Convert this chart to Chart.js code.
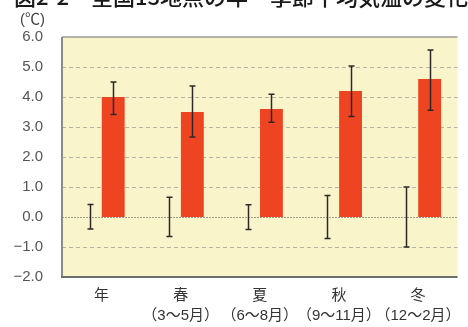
<!DOCTYPE html>
<html>
<head>
<meta charset="utf-8">
<script src="https://cdn.jsdelivr.net/npm/chart.js@4/dist/chart.umd.min.js"></script>
<style>
  html, body { margin: 0; padding: 0; background: #fff; overflow: hidden; }
  #wrap { position: relative; width: 470px; height: 327px; }
</style>
</head>
<body>
<div id="wrap"><canvas id="c"></canvas></div>
<script>
// Categories (year + four seasons)
const categories = [
  ['年'],
  ['春', '（3～5月）'],
  ['夏', '（6～8月）'],
  ['秋', '（9～11月）'],
  ['冬', '（12～2月）']
];

// Present-climate reference: mean 0 with year-to-year spread
const refMean = [0, 0, 0, 0, 0];
const refLow  = [-0.40, -0.65, -0.42, -0.72, -1.00];
const refHigh = [ 0.42,  0.66,  0.41,  0.72,  1.00];

// Projected change in mean temperature with its spread
const futureMean = [4.0, 3.5, 3.6, 4.2, 4.6];
const futureLow  = [3.42, 2.67, 3.16, 3.35, 3.56];
const futureHigh = [4.50, 4.37, 4.09, 5.03, 5.57];

// Value axis
const yMin = -2, yMax = 6, yStep = 1;

const titleText = '図2-2　全国13地点の年・季節平均気温の変化';
const unitText = '(℃)';

const FONT = "'Liberation Sans', 'Noto Sans CJK JP', sans-serif";

// Plot frame: background, dashed grid lines and borders
const framePlugin = {
  id: 'frame',
  beforeDatasetsDraw(chart) {
    const { ctx, chartArea: a, scales: { y } } = chart;
    ctx.save();
    ctx.fillStyle = '#faf4cb';
    ctx.fillRect(a.left, a.top, a.right - a.left, a.bottom - a.top);

    y.ticks.forEach(t => {
      const v = t.value;
      if (v === yMin || v === yMax) return;
      const py = Math.round(y.getPixelForValue(v)) + 0.5;
      ctx.beginPath();
      if (v === 0) {
        ctx.strokeStyle = '#9a9a8c';
        ctx.lineWidth = 1.2;
        ctx.setLineDash([2, 1]);
      } else {
        ctx.strokeStyle = '#b4b4a8';
        ctx.lineWidth = 1;
        ctx.setLineDash([4, 3]);
      }
      ctx.moveTo(a.left, py);
      ctx.lineTo(a.right, py);
      ctx.stroke();
    });
    ctx.setLineDash([]);

    // top edge
    const top = y.getPixelForValue(yMax);
    ctx.strokeStyle = '#9a9a94';
    ctx.lineWidth = 1.5;
    ctx.beginPath();
    ctx.moveTo(a.left, top);
    ctx.lineTo(a.right, top);
    ctx.stroke();

    // left edge
    ctx.strokeStyle = '#8a8a86';
    ctx.lineWidth = 2;
    ctx.beginPath();
    ctx.moveTo(a.left, a.top);
    ctx.lineTo(a.left, a.bottom);
    ctx.stroke();

    // bottom edge
    const bottom = y.getPixelForValue(yMin);
    ctx.strokeStyle = '#6e6e6a';
    ctx.lineWidth = 2;
    ctx.beginPath();
    ctx.moveTo(a.left - 1, bottom);
    ctx.lineTo(a.right, bottom);
    ctx.stroke();
    ctx.restore();
  },
  afterDraw(chart) {
    const { ctx } = chart;
    ctx.save();
    // figure caption, running off the top edge
    ctx.fillStyle = '#1a1a1a';
    ctx.font = "500 22px 'Noto Sans CJK JP', sans-serif";
    ctx.textBaseline = 'alphabetic';
    ctx.textAlign = 'left';
    ctx.fillText(titleText, 14, 5);

    ctx.fillStyle = '#444';
    ctx.font = '15px ' + FONT;
    ctx.textBaseline = 'middle';
    ctx.fillText(unitText, 20, 20);
    ctx.restore();
  }
};

// Whiskers from low to high for each bar
const errorBarPlugin = {
  id: 'errorBars',
  afterDatasetsDraw(chart) {
    const { ctx, scales: { y } } = chart;
    const ranges = [[refLow, refHigh], [futureLow, futureHigh]];
    ctx.save();
    ctx.strokeStyle = '#2a2a2a';
    ctx.lineWidth = 1.5;
    ranges.forEach(([lo, hi], di) => {
      const meta = chart.getDatasetMeta(di);
      meta.data.forEach((bar, i) => {
        const x = Math.round(bar.x) + 0.5;
        const y1 = y.getPixelForValue(hi[i]);
        const y2 = y.getPixelForValue(lo[i]);
        ctx.beginPath();
        ctx.moveTo(x, y1); ctx.lineTo(x, y2);
        ctx.moveTo(x - 3, y1); ctx.lineTo(x + 3, y1);
        ctx.moveTo(x - 3, y2); ctx.lineTo(x + 3, y2);
        ctx.stroke();
      });
    });
    ctx.restore();
  }
};

new Chart(document.getElementById('c'), {
  type: 'bar',
  data: {
    labels: categories,
    datasets: [
      {
        label: '現在',
        data: refMean,
        backgroundColor: 'rgba(0,0,0,0)',
        borderWidth: 0
      },
      {
        label: '将来',
        data: futureMean,
        backgroundColor: '#ee4421',
        borderWidth: 0
      }
    ]
  },
  options: {
    responsive: true,
    maintainAspectRatio: false,
    animation: false,
    devicePixelRatio: 1,
    layout: { padding: { top: 37, left: 0, right: 0, bottom: 0 } },
    datasets: { bar: { categoryPercentage: 0.59, barPercentage: 0.98 } },
    plugins: {
      legend: { display: false },
      tooltip: { enabled: false },
      title: { display: false }
    },
    scales: {
      x: {
        grid: { display: false, drawTicks: false },
        border: { display: false },
        ticks: {
          color: '#333',
          padding: 9.5,
          maxRotation: 0,
          autoSkip: false,
          font: { family: FONT, size: 15, lineHeight: 1.3 }
        },
        afterFit(s) { s.height = 50; }
      },
      y: {
        min: yMin,
        max: yMax,
        grid: { display: false, drawTicks: false },
        border: { display: false },
        ticks: {
          stepSize: yStep,
          color: '#555',
          padding: 19,
          font: { family: FONT, size: 15 },
          callback: v => (v < 0 ? '\u2212' + Math.abs(v).toFixed(1) : v.toFixed(1))
        },
        afterFit(s) { s.width = 62; }
      }
    }
  },
  plugins: [framePlugin, errorBarPlugin]
});
</script>
</body>
</html>
